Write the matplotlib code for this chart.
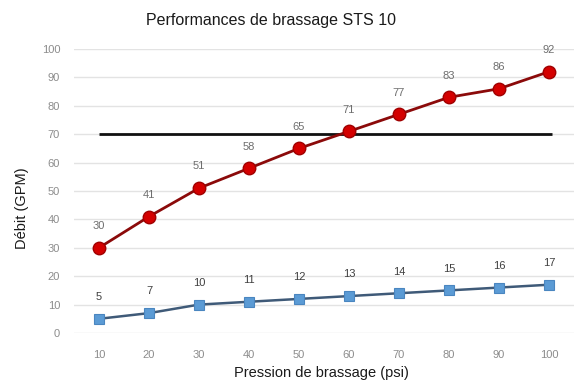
import matplotlib
matplotlib.use("Agg")
import matplotlib.pyplot as plt

plt.rcParams['font.family'] = ['Liberation Sans', 'DejaVu Sans']

pressure = [10, 20, 30, 40, 50, 60, 70, 80, 90, 100]
debit_high = [30, 41, 51, 58, 65, 71, 77, 83, 86, 92]
debit_low = [5, 7, 10, 11, 12, 13, 14, 15, 16, 17]
threshold = 70
yticks = [0, 10, 20, 30, 40, 50, 60, 70, 80, 90, 100]

fig = plt.figure(figsize=(5.75, 3.83), dpi=100)
ax = fig.add_axes([74/575, (383-333)/383, 500/575, (333-49)/383])

ax.set_xlim(5, 105)
ax.set_ylim(0, 100)
ax.set_yticks(yticks)
ax.set_xticks(pressure)
ax.grid(axis='y', color='#e3e3e3', linewidth=1)
ax.set_axisbelow(True)
for s in ax.spines.values():
    s.set_visible(False)
ax.tick_params(length=0, colors='#8c8c8c', labelsize=8)
ax.tick_params(axis='y', pad=10)
ax.tick_params(axis='x', pad=12)

ax.hlines(threshold, pressure[0], pressure[-1] + 0.5, color='#111111', linewidth=2, zorder=2)

ax.plot(pressure, debit_high, color='#8b0a0a', linewidth=2, marker='o', markersize=9,
        markerfacecolor='#d40000', markeredgecolor='#a00000', markeredgewidth=1, zorder=3, clip_on=False)
ax.plot(pressure, debit_low, color='#3f5a78', linewidth=1.8, marker='s', markersize=7,
        markerfacecolor='#5b9bd5', markeredgecolor='#4a86c0', markeredgewidth=0.8, zorder=3, clip_on=False)

for x, y in zip(pressure, debit_high):
    ax.annotate(str(y), (x, y), xytext=(0, 12), textcoords='offset points', ha='center',
                va='bottom', fontsize=8, color='#6e6e6e')
for x, y in zip(pressure, debit_low):
    ax.annotate(str(y), (x, y), xytext=(0, 12), textcoords='offset points', ha='center',
                va='bottom', fontsize=8, color='#404040')

fig.text(271/575, 1 - 20/383, 'Performances de brassage STS 10', ha='center', va='center', fontsize=11.5, color='#1a1a1a')
fig.text(22/575, 1 - 208/383, 'Débit (GPM)', rotation=90, ha='center', va='center', fontsize=10.5, color='#1a1a1a')
fig.text(321/575, 1 - 373/383, 'Pression de brassage (psi)', ha='center', va='center', fontsize=10.5, color='#1a1a1a')

fig.savefig('out.png', dpi=100, facecolor='white')
